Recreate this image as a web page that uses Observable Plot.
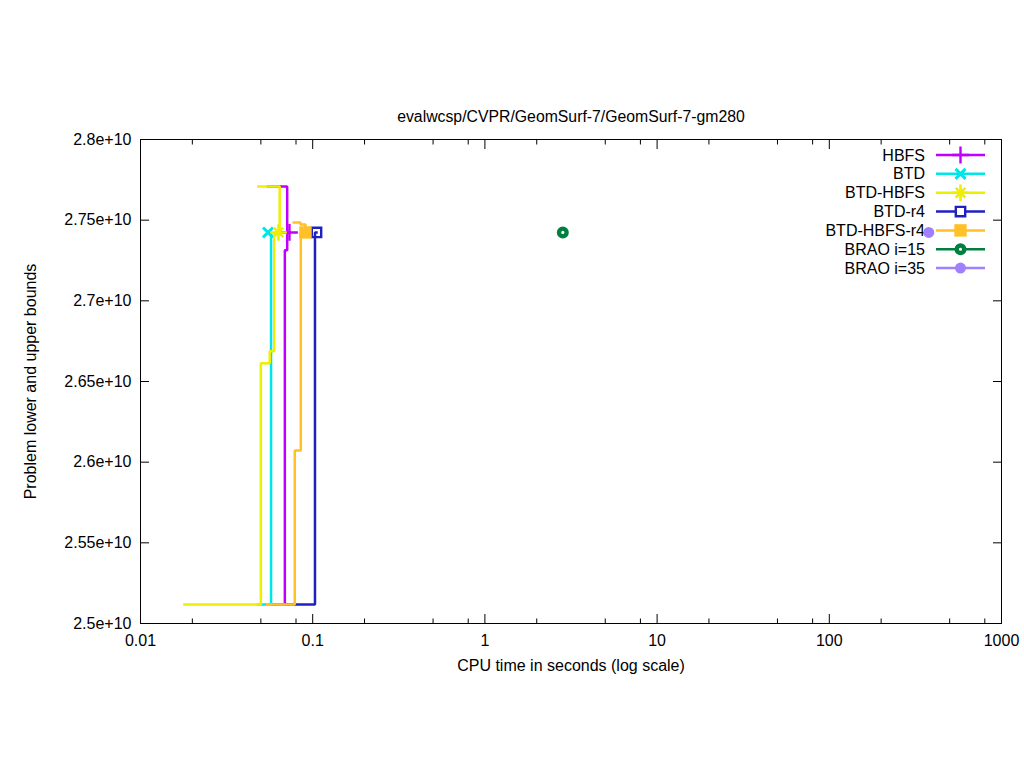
<!DOCTYPE html>
<html><head><meta charset="utf-8">
<script src="https://cdn.jsdelivr.net/npm/d3@7"></script>
<script src="https://cdn.jsdelivr.net/npm/@observablehq/plot@0.6"></script>
<style>
body{margin:0;background:#fff;}
#chart{width:1024px;height:768px;}
</style>
</head><body><div id="chart"></div>
<script>
const title = "evalwcsp/CVPR/GeomSurf-7/GeomSurf-7-gm280";
const xLabel = "CPU time in seconds (log scale)";
const yLabel = "Problem lower and upper bounds";

const seriesNames  = ["HBFS", "BTD", "BTD-HBFS", "BTD-r4", "BTD-HBFS-r4", "BRAO i=15", "BRAO i=35"];
const seriesColors = ["#c000ff", "#00e6e6", "#eeee00", "#2020c0", "#ffc028", "#007f3f", "#a080ff"];
const seriesSymbols = ["plus", "times", "plustimes", "square-open", "square-filled", "ring", "disc"];

// step curves: [time (s), bound]
const lowerHBFS  = [[0.058, 2.5118e10], [0.0689, 2.7313e10], [0.0711, 2.7424e10], [0.0733, 2.7424e10]];
const upperHBFS  = [[0.055, 2.7709e10], [0.0711, 2.7424e10]];
const lowerBTD   = [[0.048, 2.5118e10], [0.0573, 2.7424e10], [0.0573, 2.7424e10]];
const lowerBTDHBFS = [[0.018, 2.5118e10], [0.0500, 2.6613e10], [0.0563, 2.6688e10], [0.0598, 2.7424e10], [0.0640, 2.7424e10]];
const upperBTDHBFS = [[0.0484, 2.7709e10], [0.0643, 2.7424e10]];
const lowerBTDr4 = [[0.070, 2.5118e10], [0.1031, 2.7424e10], [0.1052, 2.7424e10]];
const lowerBTDHBFSr4 = [[0.0544, 2.5118e10], [0.0787, 2.6072e10], [0.0853, 2.7424e10], [0.0908, 2.7424e10]];
const upperBTDHBFSr4 = [[0.0777, 2.7486e10], [0.0849, 2.7473e10], [0.0908, 2.7424e10]];

const curves = [
  ["HBFS", "lower", lowerHBFS], ["HBFS", "upper", upperHBFS],
  ["BTD", "lower", lowerBTD],
  ["BTD-HBFS", "lower", lowerBTDHBFS], ["BTD-HBFS", "upper", upperBTDHBFS],
  ["BTD-r4", "lower", lowerBTDr4],
  ["BTD-HBFS-r4", "lower", lowerBTDHBFSr4], ["BTD-HBFS-r4", "upper", upperBTDHBFSr4]
];

// final solution points
const finalTimes  = [0.0733, 0.0550, 0.0633, 0.1052, 0.0908, 2.835, 378];
const finalBounds = [2.7424e10, 2.7424e10, 2.7424e10, 2.7424e10, 2.7424e10, 2.7424e10, 2.7424e10];

// ticks
const xMajor = [0.01, 0.1, 1, 10, 100, 1000];
const xMajorLabels = ["0.01", "0.1", "1", "10", "100", "1000"];
const xMinor = [0.02, 0.05, 0.08, 0.2, 0.5, 0.8, 2, 5, 8, 20, 50, 80, 200, 500, 800];
const yTicks = [2.5e10, 2.55e10, 2.6e10, 2.65e10, 2.7e10, 2.75e10, 2.8e10];
const yTickLabels = ["2.5e+10", "2.55e+10", "2.6e+10", "2.65e+10", "2.7e+10", "2.75e+10", "2.8e+10"];

const rows = [];
curves.forEach(([s, kind, pts]) => pts.forEach(([t, v]) => rows.push({series: s, key: s + "-" + kind, t, v})));
const finals = seriesNames.map((s, i) => ({series: s, sym: seriesSymbols[i], t: finalTimes[i], v: finalBounds[i]}));

const FONT = "'Liberation Sans', Arial, sans-serif";
const LW = 2.5;
const xLabMap = new Map(xMajor.map((d, i) => [d, xMajorLabels[i]]));
const yLabMap = new Map(yTicks.map((d, i) => [d, yTickLabels[i]]));
const bySym = k => finals.filter(d => d.sym === k);
const tickOnly = {fill: "none", label: null, stroke: "black"};

const chart = Plot.plot({
  width: 1024, height: 768,
  marginLeft: 140, marginRight: 23, marginTop: 139, marginBottom: 145,
  style: {fontFamily: FONT, fontSize: "16px", color: "black", background: "white"},
  x: {type: "log", domain: [0.01, 1000]},
  y: {domain: [2.5e10, 2.8e10]},
  color: {domain: seriesNames, range: seriesColors},
  marks: [
    Plot.frame({stroke: "black", strokeWidth: 1}),
    Plot.axisX(xMajor, {tickSize: 0, tickPadding: 11, tickFormat: d => xLabMap.get(d), label: null, fontSize: 16}),
    Plot.axisY(yTicks, {tickSize: 0, tickPadding: 9, tickFormat: d => yLabMap.get(d), label: null, fontSize: 16}),
    Plot.axisX(xMajor, {anchor: "bottom", tickSize: -9, ...tickOnly}),
    Plot.axisX(xMajor, {anchor: "top", tickSize: -9, ...tickOnly}),
    Plot.axisX(xMinor, {anchor: "bottom", tickSize: -4.5, ...tickOnly}),
    Plot.axisX(xMinor, {anchor: "top", tickSize: -4.5, ...tickOnly}),
    Plot.axisY(yTicks, {anchor: "left", tickSize: -9, ...tickOnly}),
    Plot.axisY(yTicks, {anchor: "right", tickSize: -9, ...tickOnly}),
    Plot.text([title], {frameAnchor: "top", dy: -29, fontSize: 15.8}),
    Plot.text([xLabel], {frameAnchor: "bottom", dy: 47, fontSize: 16}),
    Plot.text([yLabel], {frameAnchor: "left", dx: -110, rotate: -90, textAnchor: "middle", fontSize: 16}),
    Plot.line(rows, {x: "t", y: "v", z: "key", stroke: "series", curve: "step-after", strokeWidth: LW, strokeLinejoin: "miter", strokeLinecap: "square"}),
    Plot.dot(bySym("plus"), {x: "t", y: "v", symbol: "plus", r: 5.5, stroke: "series", strokeWidth: 2.4}),
    Plot.dot(bySym("times"), {x: "t", y: "v", symbol: "times", r: 4.6, stroke: "series", strokeWidth: 3}),
    Plot.dot(bySym("plustimes"), {x: "t", y: "v", symbol: "plus", r: 5.4, stroke: "series", strokeWidth: 2.6}),
    Plot.dot(bySym("plustimes"), {x: "t", y: "v", symbol: "times", r: 4.4, stroke: "series", strokeWidth: 2.6}),
    Plot.dot(bySym("square-open"), {x: "t", y: "v", symbol: "square", r: 5.3, stroke: "series", fill: "none", strokeWidth: 2.4}),
    Plot.dot(bySym("square-filled"), {x: "t", y: "v", symbol: "square", r: 7, fill: "series", stroke: "none"}),
    Plot.dot(bySym("ring"), {x: "t", y: "v", symbol: "circle", r: 3.8, stroke: "series", fill: "none", strokeWidth: 4.4}),
    Plot.dot(bySym("disc"), {x: "t", y: "v", symbol: "circle", r: 5.5, fill: "series", stroke: "none"})
  ]
});

// key (drawn beneath the data marks, like gnuplot)
const svg = d3.select(chart);
const key = svg.insert("g", "g").attr("aria-label", "key");
const symPath = (type, r) => d3.symbol(type, Math.PI * r * r)();
seriesNames.forEach((s, i) => {
  const y = 155 + i * 18.85;
  const c = seriesColors[i];
  const g = key.append("g");
  g.append("text").attr("x", 925).attr("y", y).attr("text-anchor", "end").attr("dy", "0.35em")
    .attr("font-family", FONT).attr("font-size", 16).attr("fill", "black").text(s);
  g.append("line").attr("x1", 936).attr("x2", 985).attr("y1", y).attr("y2", y)
    .attr("stroke", c).attr("stroke-width", LW);
  const sym = seriesSymbols[i];
  const tr = `translate(960.5,${y})`;
  const add = (type, r, fill, stroke, sw) => g.append("path").attr("d", symPath(type, r)).attr("transform", tr)
    .attr("fill", fill).attr("stroke", stroke).attr("stroke-width", sw);
  if (sym === "plus") add(d3.symbolPlus, 5.5, "none", c, 2.4);
  if (sym === "times") add(d3.symbolTimes, 4.6, "none", c, 3);
  if (sym === "plustimes") { add(d3.symbolPlus, 5.4, "none", c, 2.6); add(d3.symbolTimes, 4.4, "none", c, 2.6); }
  if (sym === "square-open") add(d3.symbolSquare, 5.3, "white", c, 2.4);
  if (sym === "square-filled") add(d3.symbolSquare, 7, c, "none", 0);
  if (sym === "ring") add(d3.symbolCircle, 3.8, "white", c, 4.4);
  if (sym === "disc") add(d3.symbolCircle, 5.5, c, "none", 0);
});

document.getElementById("chart").appendChild(chart);
</script>
</body></html>
